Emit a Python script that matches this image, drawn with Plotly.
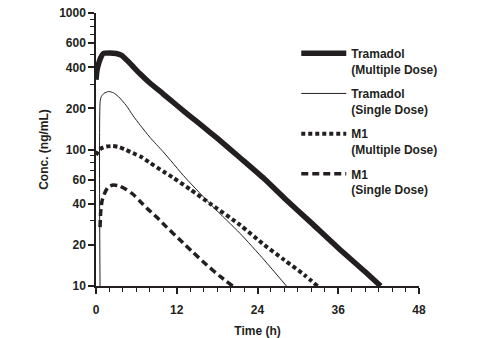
import plotly.graph_objects as go

# Tramadol, multiple dose
t_tram_md = [0, 0.15, 0.35, 0.7, 1.1, 2.0, 3.0, 3.8, 5.0, 6.5, 8, 10, 12, 14, 16, 18, 21.4, 25, 28, 32, 36, 40, 42.3]
c_tram_md = [324, 380, 420, 470, 505, 510, 505, 490, 430, 360, 307, 255, 211, 175, 146, 121, 87, 61, 44, 29, 19, 12.7, 10]

# Tramadol, single dose
t_tram_sd = [0.6, 0.62, 0.8, 1.2, 1.9, 2.6, 3.3, 4.5, 5.5, 6.6, 8, 10, 13.3, 17.4, 21.4, 25, 28.6]
c_tram_sd = [10, 225, 245, 258, 266, 260, 245, 210, 177, 150, 123, 96, 62, 38, 24.3, 15.5, 9.6]

# M1, multiple dose
t_m1_md = [0, 0.4, 0.8, 1.5, 2.5, 3.5, 4.5, 5.5, 6.6, 8, 10, 11.5, 14, 17, 21.4, 25, 28, 31, 33]
c_m1_md = [91, 98, 102, 105, 106, 104, 99, 94, 89, 80, 69, 62, 51, 40, 28, 20, 15.5, 12, 9.9]

# M1, single dose
t_m1_sd = [0.6, 0.7, 0.9, 1.3, 1.8, 2.6, 3.5, 4.5, 5.5, 6.5, 7.6, 9, 10.5, 12.5, 14.5, 16.5, 18.5, 20.3]
c_m1_sd = [27, 35, 42, 48, 53, 55, 54, 51, 47, 42, 37, 32, 27, 21.7, 17.5, 14.2, 11.7, 10]

x_ticks = [0, 12, 24, 36, 48]
y_ticks = [10, 20, 40, 60, 100, 200, 400, 600, 1000]
y_minor = [30, 50, 70, 80, 90, 300, 500, 700, 800, 900]

INK = "#231f20"
FONT = "Liberation Sans"

fig = go.Figure()
series = [
    (t_tram_md, c_tram_md, "Tramadol<br>(Multiple Dose)", 5.5, "solid"),
    (t_tram_sd, c_tram_sd, "Tramadol<br>(Single Dose)", 1, "solid"),
    (t_m1_md, c_m1_md, "M1<br>(Multiple Dose)", 4, "4px,3px"),
    (t_m1_sd, c_m1_sd, "M1<br>(Single Dose)", 3.5, "7px,4px"),
]
for i, (t, c, name, w, d) in enumerate(series):
    fig.add_trace(go.Scatter(
        x=t, y=c, mode="lines", name=name, legendgroup=f"g{i}",
        line=dict(color=INK, width=w, dash=d, shape="spline", smoothing=0.6),
    ))

fig.update_layout(
    width=483, height=338,
    margin=dict(l=96, r=64, t=13, b=52),
    paper_bgcolor="white", plot_bgcolor="white",
    font=dict(family=FONT, size=12, color=INK, weight="bold"),
    showlegend=True,
    legend=dict(
        x=0.62, y=0.905, xanchor="left", yanchor="top",
        bgcolor="rgba(0,0,0,0)", borderwidth=0,
        font=dict(family=FONT, size=12, color=INK, weight="bold"),
        valign="top", tracegroupgap=6, itemwidth=45,
    ),
)
fig.update_xaxes(
    range=[0, 48], tickvals=x_ticks, ticktext=[str(v) for v in x_ticks],
    automargin=False,
    showline=True, linecolor=INK, linewidth=1.5, showgrid=False, zeroline=False,
    ticks="outside", ticklen=6, tickwidth=1.5, tickcolor=INK,
    ticklabelstandoff=6,
    minor=dict(dtick=2, tick0=0, ticks="outside", ticklen=4, tickwidth=1.2, tickcolor=INK, showgrid=False),
    title=dict(text="Time (h)", font=dict(family=FONT, size=12, color=INK, weight="bold"), standoff=11),
)
fig.update_yaxes(
    type="log", range=[1, 3], tickvals=y_ticks, ticktext=[str(v) for v in y_ticks],
    automargin=False,
    showline=True, linecolor=INK, linewidth=1.5, showgrid=False, zeroline=False,
    ticks="outside", ticklen=6, tickwidth=1.5, tickcolor=INK,
    minor=dict(tickvals=y_minor, ticks="outside", ticklen=4, tickwidth=1.2, tickcolor=INK, showgrid=False),
    title=dict(text="Conc. (ng/mL)", font=dict(family=FONT, size=12, color=INK, weight="bold"), standoff=8),
)

fig.write_html("out.html")
